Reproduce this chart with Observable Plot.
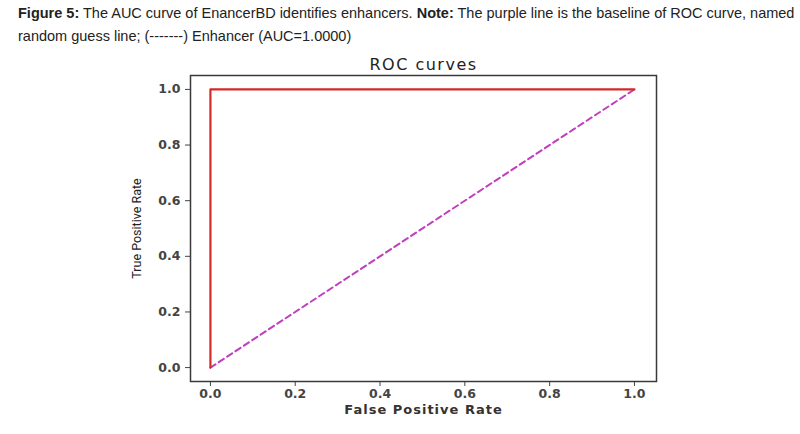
<!DOCTYPE html>
<html><head><meta charset="utf-8">
<script src="https://cdn.jsdelivr.net/npm/d3@7"></script>
<script src="https://cdn.jsdelivr.net/npm/@observablehq/plot@0.6"></script>
<style>
body{margin:0;background:#fff;width:800px;}
#cap{height:48px;box-sizing:border-box;padding:2px 0 0 18px;font-family:"Liberation Sans Narrow","Liberation Sans",sans-serif;font-stretch:condensed;font-size:14.5px;line-height:23px;color:#222;}
#cap b{font-weight:bold;}
</style></head><body>
<div id="cap"><b>Figure 5:</b> The AUC curve of EnancerBD identifies enhancers. <b>Note:</b> The purple line is the baseline of ROC curve, named<br>random guess line; (-------) Enhancer (AUC=1.0000)</div>
<div id="chart"></div>
<script>
const rocFpr = [0, 0, 1];
const rocTpr = [0, 1, 1];
const baseFpr = [0, 1];
const baseTpr = [0, 1];
const xTicks = [0, 0.2, 0.4, 0.6, 0.8, 1.0];
const yTicks = [0, 0.2, 0.4, 0.6, 0.8, 1.0];
const titleText = "ROC curves";

const roc = rocFpr.map((x, i) => ({x, y: rocTpr[i]}));
const base = baseFpr.map((x, i) => ({x, y: baseTpr[i]}));

const chart = Plot.plot({
  width: 800,
  height: 386,
  marginLeft: 190,
  marginRight: 144,
  marginTop: 27,
  marginBottom: 53,
  style: {fontFamily: "DejaVu Sans", fontSize: "12.5px", fontWeight: "bold", color: "#444", background: "#fff"},
  x: {domain: [-0.047, 1.052], ticks: xTicks, tickFormat: d3.format(".1f"), tickSize: 5, tickPadding: 3, label: "False Positive Rate", labelAnchor: "center", labelOffset: 32, labelArrow: "none"},
  y: {domain: [-0.05, 1.05], ticks: yTicks, tickFormat: d3.format(".1f"), tickSize: 5, tickPadding: 5, label: "True Positive Rate", labelAnchor: "center", labelOffset: 58, labelArrow: "none"},
  marks: [
    Plot.frame({stroke: "#3a3a3a", strokeWidth: 1.5}),
    Plot.line(base, {x: "x", y: "y", stroke: "#bf3fbf", strokeWidth: 2, strokeDasharray: "6,4"}),
    Plot.line(roc, {x: "x", y: "y", stroke: "#d42a26", strokeWidth: 2.2}),
    Plot.text([titleText], {frameAnchor: "top", lineAnchor: "bottom", dy: -6, fontSize: 16, fontWeight: "normal", fill: "#222", text: d => d})
  ]
});
document.getElementById("chart").appendChild(chart);
const s = d3.select(chart);
s.select('g[aria-label="x-axis label"]').style("font-size", "13px").style("letter-spacing", "1px").style("fill", "#333");
s.select('g[aria-label="y-axis label"]').style("font-family", "Roboto").style("font-weight", "normal").style("font-size", "12.5px").style("fill", "#222");
s.select('g[aria-label="text"]').style("letter-spacing", "1.5px");
</script>
</body></html>
